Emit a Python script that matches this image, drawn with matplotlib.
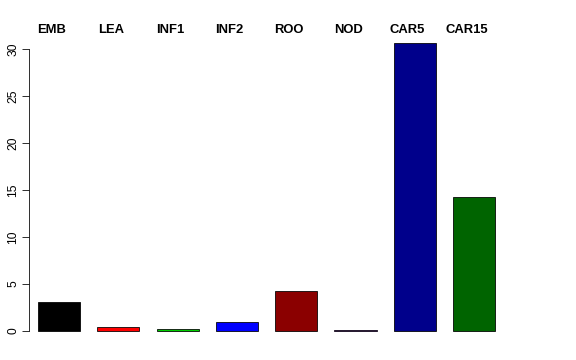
import matplotlib
matplotlib.use("Agg")
import matplotlib.pyplot as plt
import numpy as np

categories = ["EMB", "LEA", "INF1", "INF2", "ROO", "NOD", "CAR5", "CAR15"]
values = [3.05, 0.39, 0.25, 0.92, 4.29, 0.10, 30.65, 14.27]
colors = ["#000000", "#FF0000", "#00CD00", "#0000FF", "#8B0000", "#A020F0", "#00008B", "#006400"]
yticks = [0, 5, 10, 15, 20, 25, 30]

plt.rcParams['font.family'] = ['Liberation Sans', 'DejaVu Sans']

W, H = 576, 360
fig = plt.figure(figsize=(8, 5), dpi=72)

# pixel mapping
px_per_unit_y = 9.4
y0_px = 331
ylo, yhi = -1.2, 32.0
bottom_px = y0_px + (-ylo) * px_per_unit_y
top_px = y0_px - yhi * px_per_unit_y
px_per_unit_x = 59.3
x0_px = 59.0
xlo, xhi = -0.5, 8.45
left_px = x0_px + xlo * px_per_unit_x
right_px = x0_px + xhi * px_per_unit_x

ax = fig.add_axes([left_px / W, (H - bottom_px) / H,
                   (right_px - left_px) / W, (bottom_px - top_px) / H])
x = np.arange(len(categories))
ax.bar(x, values, width=0.71, color=colors, edgecolor="black", linewidth=0.8)
ax.set_xlim(xlo, xhi)
ax.set_ylim(ylo, yhi)

for s in ["top", "right", "bottom"]:
    ax.spines[s].set_visible(False)
ax.spines["left"].set_bounds(0, 30)
ax.spines["left"].set_linewidth(0.8)
ax.set_xticks([])
ax.set_yticks(yticks)
ax.set_yticklabels([str(t) for t in yticks], rotation=90, va="center", fontsize=12)
ax.tick_params(axis="y", length=7, width=0.8, pad=3)

for xi, name in zip(x, categories):
    ax.text(xi - 0.125, 31.7, name, ha="center", va="baseline",
            fontsize=13, fontweight="bold", clip_on=False)

fig.savefig("out.png", dpi=72)
